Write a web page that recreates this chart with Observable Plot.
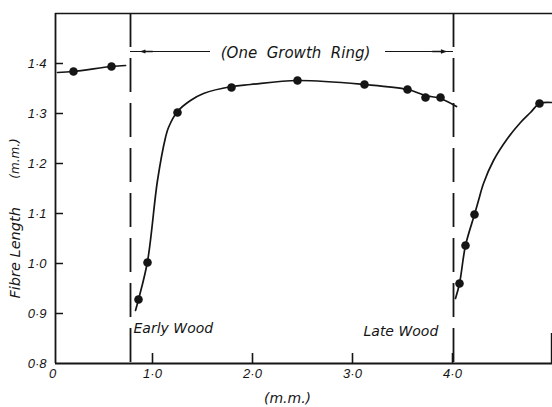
<!DOCTYPE html>
<html>
<head>
<meta charset="utf-8">
<script src="https://cdn.jsdelivr.net/npm/d3@7"></script>
<script src="https://cdn.jsdelivr.net/npm/@observablehq/plot@0.6"></script>
<style>
  html, body { margin: 0; padding: 0; background: #fff; }
  #chart svg { display: block; }
</style>
</head>
<body>
<div id="chart"></div>
<script>
// ---- tick labels ----
const xTicks = [0, 1, 2, 3, 4];
const yTicks = [0.8, 0.9, 1.0, 1.1, 1.2, 1.3, 1.4];

// ---- measured points (distance mm, fibre length mm) ----
const prevDotsX = [0.21, 0.59];
const prevDotsY = [1.384, 1.394];
const ringDotsX = [0.86, 0.95, 1.25, 1.79, 2.45, 3.12, 3.55, 3.73, 3.88];
const ringDotsY = [0.928, 1.002, 1.302, 1.352, 1.366, 1.358, 1.348, 1.332, 1.332];
const nextDotsX = [4.07, 4.13, 4.22, 4.87];
const nextDotsY = [0.960, 1.036, 1.098, 1.320];

// ---- hand-drawn curves ----
const prevCurveX = [0.05, 0.21, 0.59, 0.73];
const prevCurveY = [1.382, 1.384, 1.394, 1.396];
const ringCurveX = [0.83, 0.86, 0.95, 1.05, 1.13, 1.16, 1.25, 1.38, 1.51, 1.79, 1.98, 2.45, 3.12, 3.55, 3.73, 3.88, 4.04];
const ringCurveY = [0.906, 0.928, 1.004, 1.166, 1.252, 1.272, 1.304, 1.326, 1.340, 1.354, 1.358, 1.366, 1.358, 1.348, 1.336, 1.330, 1.314];
const nextCurveX = [4.03, 4.07, 4.13, 4.22, 4.26, 4.31, 4.41, 4.55, 4.68, 4.78, 4.87, 4.99];
const nextCurveY = [0.930, 0.960, 1.036, 1.098, 1.126, 1.160, 1.206, 1.250, 1.282, 1.302, 1.320, 1.322];

// ---- ring boundaries and annotations ----
const boundaries = [0.78, 4.01];
const ringLabel = "(One  Growth  Ring)";
const woodLabels = ["Early Wood", "Late Wood"];
const woodLabelX = [0.81, 3.11];
const woodLabelY = [0.870, 0.864];
const xTitle = "(m.m.)";
const yTitle = "Fibre Length";
const yUnit = "(m.m.)";

const zip = (xs, ys) => xs.map((x, i) => ({x, y: ys[i]}));
const fmt = d => d === 0 ? "0" : d.toFixed(1).replace(".", "\u00B7");
const ink = "#151515";
const hand = "DejaVu Sans, Liberation Sans, sans-serif";
const yTop = 1.5, xLeft = 0.03, xRight = 4.99;

const chart = Plot.plot({
  width: 552,
  height: 407,
  marginLeft: 55,
  marginRight: 0,
  marginTop: 13,
  marginBottom: 44,
  x: {domain: [0, 5], range: [52, 552]},
  y: {domain: [0.8, 1.5]},
  style: {fontFamily: "Liberation Sans, Arial, sans-serif", fontStyle: "italic", fontSize: "13px", color: ink, background: "#fff"},
  marks: [
    // frame
    Plot.ruleX([xLeft], {y1: 0.8, y2: yTop, stroke: ink, strokeWidth: 1.8}),
    Plot.ruleY([yTop], {x1: xLeft, x2: 5, stroke: ink, strokeWidth: 1.4}),
    Plot.ruleY([0.8], {x1: xLeft, x2: 5, stroke: ink, strokeWidth: 1.8}),
    Plot.ruleX([xRight], {y1: 0.8, y2: 0.86, stroke: ink, strokeWidth: 1.4}),
    // inward ticks
    Plot.ruleY(yTicks.filter(d => d > 0.8), {x1: xLeft, x2: 0.11, stroke: ink, strokeWidth: 1.5}),
    Plot.ruleX(xTicks.filter(d => d > 0), {y1: 0.8, y2: 0.82, stroke: ink, strokeWidth: 1.6}),
    // axes (labels only)
    Plot.axisY({ticks: yTicks, tickSize: 0, tickPadding: 9, tickFormat: fmt, label: null, fontSize: 13}),
    Plot.axisX({ticks: xTicks, tickSize: 0, tickPadding: 5, tickFormat: fmt, label: null, fontSize: 13}),
    // ring boundaries
    Plot.ruleX(boundaries, {y1: yTop, y2: 0.8, stroke: ink, strokeWidth: 1.8, strokeDasharray: "34,11"}),
    // growth ring arrows
    Plot.ruleY([1.424], {x1: boundaries[0], x2: 1.58, stroke: ink, strokeWidth: 1.2}),
    Plot.arrow([{x1: 1.0, x2: 0.89, y: 1.424}], {x1: "x1", x2: "x2", y1: "y", y2: "y", stroke: ink, strokeWidth: 1.3, headLength: 7, headAngle: 40}),
    Plot.ruleY([1.424], {x1: 3.33, x2: boundaries[1], stroke: ink, strokeWidth: 1.2}),
    Plot.arrow([{x1: 3.8, x2: 3.93, y: 1.424}], {x1: "x1", x2: "x2", y1: "y", y2: "y", stroke: ink, strokeWidth: 1.3, headLength: 7, headAngle: 40}),
    Plot.text([ringLabel], {x: 2.43, y: 1.42, text: d => d, fontSize: 15, fontFamily: hand, fill: ink}),
    // curves
    Plot.line(zip(prevCurveX, prevCurveY), {x: "x", y: "y", curve: "catmull-rom", stroke: ink, strokeWidth: 1.7}),
    Plot.line(zip(ringCurveX, ringCurveY), {x: "x", y: "y", curve: "catmull-rom", stroke: ink, strokeWidth: 1.7}),
    Plot.line(zip(nextCurveX, nextCurveY), {x: "x", y: "y", curve: "catmull-rom", stroke: ink, strokeWidth: 1.7}),
    // dots
    Plot.dot(zip(prevDotsX, prevDotsY), {x: "x", y: "y", r: 4.3, fill: ink, stroke: "none"}),
    Plot.dot(zip(ringDotsX, ringDotsY), {x: "x", y: "y", r: 4.3, fill: ink, stroke: "none"}),
    Plot.dot(zip(nextDotsX, nextDotsY), {x: "x", y: "y", r: 4.3, fill: ink, stroke: "none"}),
    // wood labels
    Plot.text(woodLabels, {x: (d, i) => woodLabelX[i], y: (d, i) => woodLabelY[i], text: d => d, textAnchor: "start", fontSize: 14, fontFamily: hand, fill: ink}),
    // axis titles
    Plot.text([xTitle], {x: 2.35, y: 0.73, text: d => d, fontSize: 14, fontFamily: hand, fill: ink}),
    Plot.text([yTitle], {x: -0.37, y: 0.93, text: d => d, rotate: -90, fontSize: 14.5, fontFamily: hand, textAnchor: "start", fill: ink}),
    Plot.text([yUnit], {x: -0.37, y: 1.21, text: d => d, rotate: -90, fontSize: 12, fontFamily: hand, textAnchor: "middle", fill: ink})
  ]
});
document.getElementById("chart").append(chart);
</script>
</body>
</html>
